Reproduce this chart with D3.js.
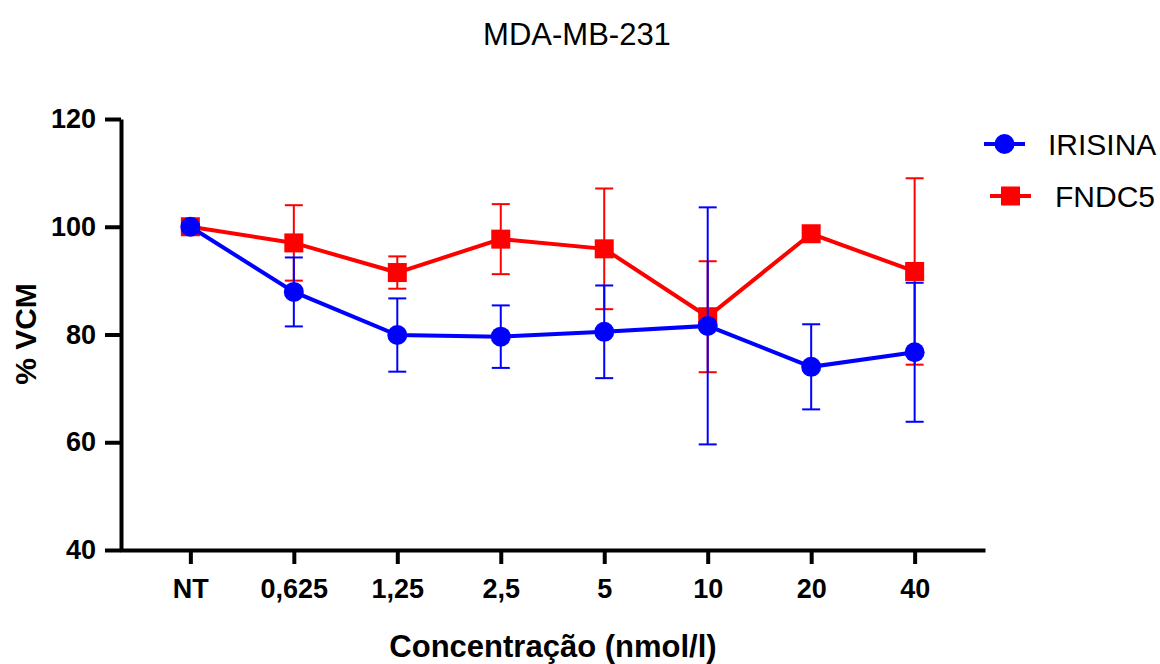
<!DOCTYPE html>
<html>
<head>
<meta charset="utf-8">
<script src="https://cdn.jsdelivr.net/npm/d3@7"></script>
<style>
  body { margin: 0; background: #fff; }
  text { font-family: "Liberation Sans", Arial, sans-serif; }
</style>
</head>
<body>
<svg id="chart" width="1160" height="664"></svg>
<script>
const categories = ['NT', '0,625', '1,25', '2,5', '5', '10', '20', '40'];
const irisina = [100, 87.9, 79.9, 79.6, 80.5, 81.6, 74.0, 76.7];
const irisinaErr = [0, 6.4, 6.8, 5.8, 8.6, 22.0, 7.9, 12.9];
const fndc5 = [100, 97.0, 91.5, 97.7, 95.9, 83.3, 98.7, 91.7];
const fndc5Err = [0, 7.0, 3.0, 6.5, 11.2, 10.3, 0, 17.3];
const yTicks = [40, 60, 80, 100, 120];

const svg = d3.select('#chart');
const FONT = '"Liberation Sans", Arial, sans-serif';

const xScale = d3.scalePoint()
  .domain(categories)
  .range([120, 985])
  .padding(0.68);

const yScale = d3.scaleLinear()
  .domain([40, 120])
  .range([550, 119]);

// axes
const yAxis = svg.append('g')
  .attr('transform', 'translate(121,0)')
  .call(d3.axisLeft(yScale).tickValues(yTicks).tickSize(16).tickPadding(9).tickSizeOuter(0));
yAxis.select('.domain').attr('stroke-width', 4).attr('stroke', '#000');
yAxis.selectAll('.tick line').attr('stroke-width', 4).attr('stroke', '#000');
yAxis.selectAll('.tick text')
  .attr('font-size', '27px').attr('font-weight', 'bold').attr('fill', '#000')
  .attr('font-family', FONT);

const xAxis = svg.append('g')
  .attr('transform', 'translate(0,550)')
  .call(d3.axisBottom(xScale).tickSize(14).tickSizeOuter(0));
xAxis.select('.domain').attr('stroke-width', 4).attr('stroke', '#000');
xAxis.selectAll('.tick line').attr('stroke-width', 4).attr('stroke', '#000');
xAxis.selectAll('.tick text')
  .attr('y', 48).attr('dy', 0)
  .attr('font-size', '27px').attr('font-weight', 'bold').attr('fill', '#000')
  .attr('font-family', FONT);

// series
const series = [
  { name: 'FNDC5', values: fndc5, err: fndc5Err, color: '#ff0000', shape: 'square' },
  { name: 'IRISINA', values: irisina, err: irisinaErr, color: '#0000ff', shape: 'circle' }
];

const line = d3.line()
  .x((d, i) => xScale(categories[i]))
  .y(d => yScale(d));

series.forEach(s => {
  const g = svg.append('g');
  const data = s.values.map((v, i) => ({ c: categories[i], v: v, e: s.err[i] }));

  const eb = g.selectAll('.err')
    .data(data.filter(d => d.e > 0))
    .enter().append('g');
  eb.append('line')
    .attr('x1', d => xScale(d.c)).attr('x2', d => xScale(d.c))
    .attr('y1', d => yScale(d.v + d.e)).attr('y2', d => yScale(d.v - d.e))
    .attr('stroke', s.color).attr('stroke-width', 2);
  [1, -1].forEach(sign => {
    eb.append('line')
      .attr('x1', d => xScale(d.c) - 9).attr('x2', d => xScale(d.c) + 9)
      .attr('y1', d => yScale(d.v + sign * d.e)).attr('y2', d => yScale(d.v + sign * d.e))
      .attr('stroke', s.color).attr('stroke-width', 2);
  });

  g.append('path')
    .datum(s.values)
    .attr('d', line)
    .attr('fill', 'none')
    .attr('stroke', s.color)
    .attr('stroke-width', 4);

  if (s.shape === 'circle') {
    g.selectAll('.pt').data(data).enter().append('circle')
      .attr('cx', d => xScale(d.c)).attr('cy', d => yScale(d.v))
      .attr('r', 10).attr('fill', s.color);
  } else {
    g.selectAll('.pt').data(data).enter().append('rect')
      .attr('x', d => xScale(d.c) - 9.5).attr('y', d => yScale(d.v) - 9.5)
      .attr('width', 19).attr('height', 19).attr('fill', s.color);
  }
});

// legend
const legendItems = [
  { name: 'IRISINA', color: '#0000ff', shape: 'circle', y: 144, x: 984, tx: 1048 },
  { name: 'FNDC5', color: '#ff0000', shape: 'square', y: 196, x: 990, tx: 1055 }
];
legendItems.forEach(l => {
  const g = svg.append('g');
  g.append('line')
    .attr('x1', l.x).attr('x2', l.x + 41).attr('y1', l.y).attr('y2', l.y)
    .attr('stroke', l.color).attr('stroke-width', 4);
  if (l.shape === 'circle') {
    g.append('circle').attr('cx', l.x + 20.5).attr('cy', l.y).attr('r', 10).attr('fill', l.color);
  } else {
    g.append('rect').attr('x', l.x + 11).attr('y', l.y - 9.5).attr('width', 19).attr('height', 19).attr('fill', l.color);
  }
  g.append('text')
    .attr('x', l.tx).attr('y', l.y + 11)
    .attr('font-size', '30px').attr('fill', '#000')
    .text(l.name);
});

// titles
svg.append('text')
  .attr('x', 577).attr('y', 45)
  .attr('text-anchor', 'middle')
  .attr('font-size', '31px').attr('fill', '#000')
  .text('MDA-MB-231');

svg.append('text')
  .attr('x', 553).attr('y', 657)
  .attr('text-anchor', 'middle')
  .attr('font-size', '31px').attr('font-weight', 'bold').attr('fill', '#000')
  .text('Concentração (nmol/l)');

svg.append('text')
  .attr('transform', 'translate(36,334) rotate(-90)')
  .attr('text-anchor', 'middle')
  .attr('font-size', '30px').attr('font-weight', 'bold').attr('fill', '#000')
  .text('% VCM');
</script>
</body>
</html>
